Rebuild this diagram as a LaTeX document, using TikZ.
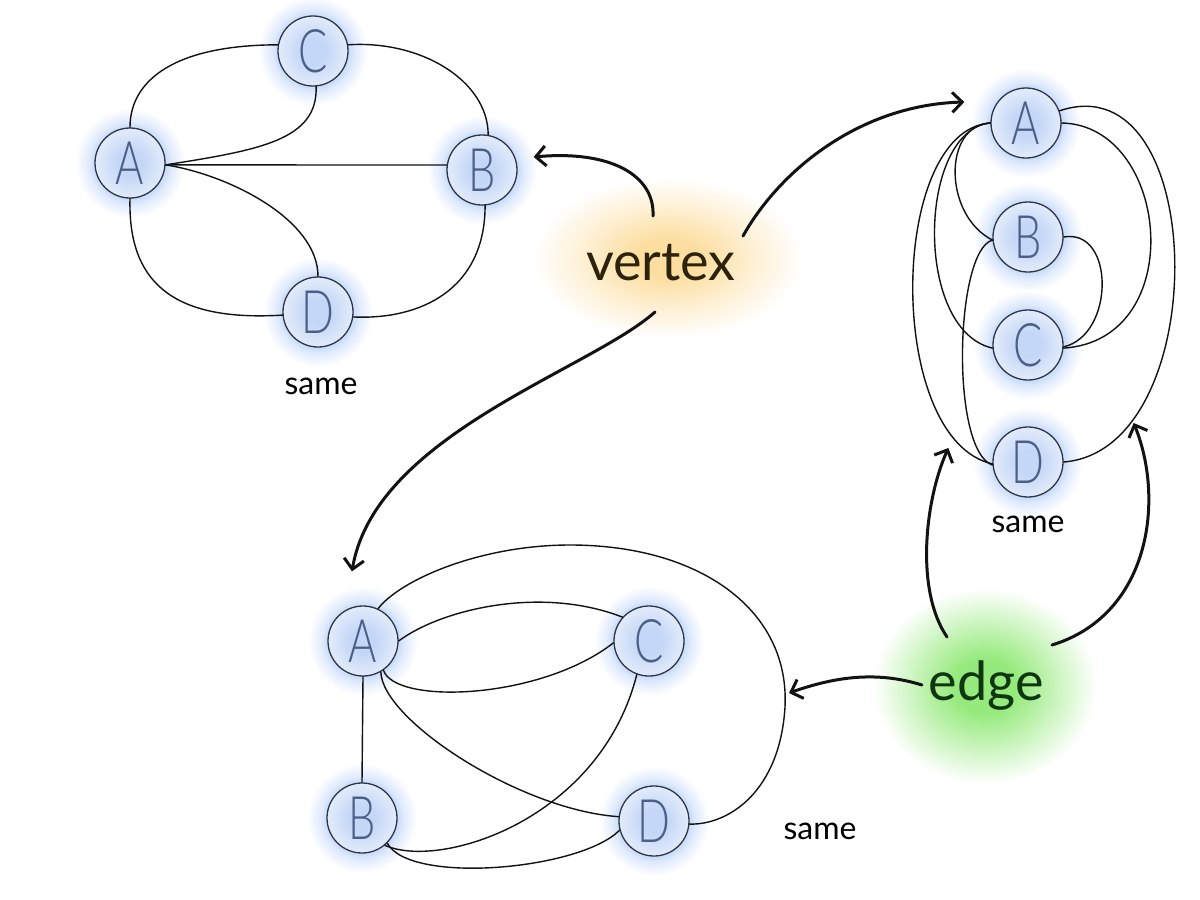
\documentclass[tikz,border=0pt]{standalone}
\usepackage{fontspec}
\setmainfont{Lato}
\newfontfamily\nodefont{Lato Light}[FakeStretch=0.72]
\newfontfamily\handfont{Lato}
\usetikzlibrary{arrows.meta}
\definecolor{glowblue}{RGB}{200,219,250}
\definecolor{nodein}{RGB}{196,215,247}
\definecolor{nodeout}{RGB}{226,235,250}
\definecolor{nodeborder}{RGB}{45,55,70}
\definecolor{glowor}{RGB}{252,222,160}
\definecolor{glowgr}{RGB}{150,234,125}
\definecolor{inkline}{RGB}{18,18,18}
\definecolor{letter}{RGB}{75,95,135}
\definecolor{vcol}{RGB}{45,35,10}
\definecolor{ecol}{RGB}{15,55,15}
% TikZ fits the central 50bp x 50bp of a shading to the path: radius 25bp = path edge
\pgfdeclareradialshading{nodeglow}{\pgfpointorigin}{color(0bp)=(glowblue); color(16bp)=(glowblue); color(19bp)=(glowblue!55!white); color(25bp)=(white); color(50bp)=(white)}
\pgfdeclareradialshading{nodefill}{\pgfpointorigin}{color(0bp)=(nodein); color(9bp)=(nodein); color(25bp)=(nodeout); color(50bp)=(nodeout)}
\pgfdeclareradialshading{orglow}{\pgfpointorigin}{color(0bp)=(glowor); color(6bp)=(glowor); color(15bp)=(glowor!50!white); color(25bp)=(white); color(50bp)=(white)}
\pgfdeclareradialshading{grglow}{\pgfpointorigin}{color(0bp)=(glowgr); color(7bp)=(glowgr); color(16bp)=(glowgr!50!white); color(25bp)=(white); color(50bp)=(white)}
\tikzset{
  gnode/.style={circle, draw=nodeborder, line width=1.3pt, minimum size=70pt, inner sep=0pt,
    shade, shading=nodefill, text=letter, font=\nodefont\fontsize{60}{60}\selectfont},
  gedge/.style={draw=inkline, line width=1.4pt, line cap=round},
  harrow/.style={draw=inkline, line width=3pt, line cap=round, line join=round,
    -{Straight Barb[length=10pt,width=20pt,line width=3pt]}},
  samelabel/.style={anchor=base, text=black, font=\handfont\fontsize{32}{32}\selectfont},
  vlabel/.style={anchor=base, text=vcol, font=\handfont\fontsize{54}{54}\selectfont},
  elabel/.style={anchor=base, text=ecol, font=\handfont\fontsize{54}{54}\selectfont},
}
\begin{document}
\begin{tikzpicture}[x=1pt,y=-1pt]
\useasboundingbox[fill=white] (0,0) rectangle (1200,900);
% positions
\coordinate (pA1) at (130,163); \coordinate (pC1) at (313,51);
\coordinate (pB1) at (482,170); \coordinate (pD1) at (318,312);
\coordinate (pA2) at (1026,123); \coordinate (pB2) at (1028,237);
\coordinate (pC2) at (1028,345); \coordinate (pD2) at (1028,462);
\coordinate (pA3) at (363,641); \coordinate (pB3) at (362,818);
\coordinate (pC3) at (649,641); \coordinate (pD3) at (654,821);
% glows
\shade[shading=orglow] (668,258) ellipse[x radius=135pt, y radius=80pt];
\shade[shading=grglow] (985,686) ellipse[x radius=112pt, y radius=98pt];
\foreach \p in {pA1,pC1,pB1,pD1,pA2,pB2,pC2,pD2,pA3,pB3,pC3,pD3}
  \shade[shading=nodeglow] (\p) circle[radius=55pt];
% nodes
\node[gnode] (A1) at (pA1) {A};
\node[gnode] (C1) at (pC1) {C};
\node[gnode] (B1) at (pB1) {B};
\node[gnode] (D1) at (pD1) {D};
\node[gnode] (A2) at (pA2) {A};
\node[gnode] (B2) at (pB2) {B};
\node[gnode] (C2) at (pC2) {C};
\node[gnode] (D2) at (pD2) {D};
\node[gnode] (A3) at (pA3) {A};
\node[gnode] (B3) at (pB3) {B};
\node[gnode] (C3) at (pC3) {C};
\node[gnode] (D3) at (pD3) {D};
% labels
\node[samelabel] (s1) at (321,394) {same};
\node[samelabel] (s2) at (1028,532) {same};
\node[samelabel] (s3) at (820,839) {same};
\node[vlabel] (vertex) at (661,280) {vertex};
\node[elabel] (edge) at (986,700) {edge};
% graph 1 edges
\draw[gedge] (A1.north) .. controls (130,80) and (175,45) .. (C1.170);
\draw[gedge] (C1.10) .. controls (420,40) and (488,80) .. (B1.80);
\draw[gedge] (C1.-85) .. controls (318,140) and (260,150) .. (A1.-3);
\draw[gedge] (A1.-3) -- (B1.172);
\draw[gedge] (A1.-3) .. controls (230,175) and (318,220) .. (D1.north);
\draw[gedge] (A1.south) .. controls (128,280) and (170,322) .. (D1.185);
\draw[gedge] (B1.-85) .. controls (485,290) and (420,320) .. (D1.-8);
% graph 2 edges
\draw[gedge] (A2.180) .. controls (943,125) and (943,215) .. (B2.185);
\draw[gedge] (A2.180) .. controls (918,130) and (913,330) .. (C2.185);
\draw[gedge] (A2.180) .. controls (888,130) and (885,440) .. (D2.183);
\draw[gedge] (B2.185) .. controls (955,250) and (950,450) .. (D2.185);
\draw[gedge] (A2.0) .. controls (1170,125) and (1190,340) .. (C2.-5);
\draw[gedge] (A2.20) .. controls (1210,60) and (1215,450) .. (D2.east);
\draw[gedge] (B2.east) .. controls (1115,228) and (1115,335) .. (C2.-3);
% graph 3 edges
\draw[gedge] (A3.65) .. controls (400,580) and (480,545) .. (570,545)
  .. controls (700,545) and (790,610) .. (785,707)
  .. controls (780,790) and (730,825) .. (D3.-5);
\draw[gedge] (A3.east) .. controls (440,610) and (540,585) .. (C3.138);
\draw[gedge] (A3.-55) .. controls (395,705) and (540,700) .. (C3.183);
\draw[gedge] (A3.-60) .. controls (382,720) and (520,810) .. (D3.173);
\draw[gedge] (A3.south) -- (B3.north);
\draw[gedge] (B3.-50) .. controls (440,870) and (600,820) .. (C3.-110);
\draw[gedge] (B3.-45) .. controls (410,885) and (580,870) .. (D3.195);
% arrows
\coordinate (v1) at (653,216); \coordinate (v2) at (743,236); \coordinate (v3) at (655,312);
\coordinate (e1) at (922,685); \coordinate (e2) at (947,637); \coordinate (e3) at (1052,645);
\coordinate (arcpt) at (789,693);
\draw[harrow] (v1) .. controls (655,175) and (610,150) .. ([shift={(16,-13)}]B1.east);
\draw[harrow] (v2) .. controls (780,170) and (860,105) .. ([shift={(-26,-21)}]A2.west);
\draw[harrow] (v3) .. controls (590,370) and (375,435) .. ([shift={(-11,-34)}]A3.north);
\draw[harrow] (e1) .. controls (880,672) and (840,675) .. (arcpt);
\draw[harrow] (e2) .. controls (915,590) and (925,500) .. ([shift={(-44,-14)}]D2.west);
\draw[harrow] (e3) .. controls (1150,615) and (1165,500) .. ([shift={(70,-39)}]D2.east);
\end{tikzpicture}
\end{document}
